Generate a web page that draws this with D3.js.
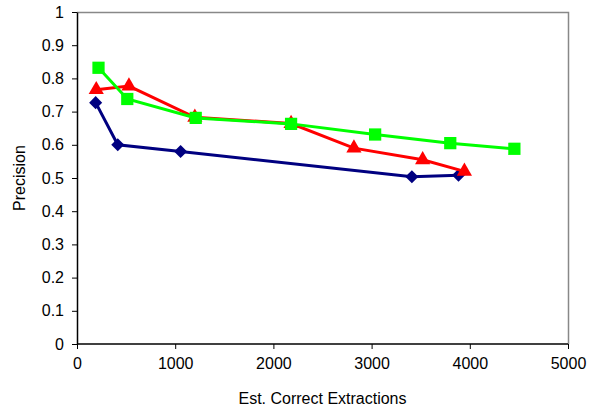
<!DOCTYPE html>
<html>
<head>
<meta charset="utf-8">
<script src="https://cdn.jsdelivr.net/npm/d3@7"></script>
<style>
body { margin: 0; background: #fff; }
text { font-family: "Liberation Sans", Arial, sans-serif; }
</style>
</head>
<body>
<div id="chart"></div>
<script>
var W = 603, H = 413;
var margin = {top: 12, right: 35, bottom: 69, left: 77};

var xTicks = [0, 1000, 2000, 3000, 4000, 5000];
var yTicks = [0, 0.1, 0.2, 0.3, 0.4, 0.5, 0.6, 0.7, 0.8, 0.9, 1];

// navy diamonds
var blueX = [190, 415, 1055, 3410, 3885];
var blueY = [0.727, 0.600, 0.580, 0.504, 0.508];
// red triangles
var redX = [196, 529, 1200, 2180, 2820, 3520, 3945];
var redY = [0.766, 0.777, 0.683, 0.664, 0.590, 0.555, 0.520];
// green squares
var greenX = [219, 512, 1209, 2180, 3036, 3801, 4454];
var greenY = [0.832, 0.738, 0.681, 0.663, 0.631, 0.605, 0.588];

var width = W - margin.left - margin.right,
    height = H - margin.top - margin.bottom;

var x = d3.scaleLinear().domain([0, 5000]).range([0, width]);
var y = d3.scaleLinear().domain([0, 1]).range([height, 0]);

var svg = d3.select("#chart").append("svg")
    .attr("width", W).attr("height", H);
var g = svg.append("g")
    .attr("transform", "translate(" + margin.left + "," + margin.top + ")");

// plot area border (grey, top and right)
g.append("path")
    .attr("d", "M0,0.5H" + (width + 0.5) + "V" + height)
    .attr("fill", "none").attr("stroke", "#888").attr("stroke-width", 1.5);

var xAxis = g.append("g")
    .attr("transform", "translate(0," + height + ")")
    .call(d3.axisBottom(x).tickValues(xTicks).tickSize(5).tickPadding(9).tickFormat(d3.format("d")));
var yAxis = g.append("g")
    .call(d3.axisLeft(y).tickValues(yTicks).tickSize(5).tickPadding(8).tickSizeOuter(0).tickFormat(function(d){ return d3.format("")(+d.toFixed(1)); }));

[xAxis, yAxis].forEach(function(a){
  a.select(".domain").attr("stroke", "#000").attr("stroke-width", 1.5);
  a.selectAll(".tick line").attr("stroke", "#000");
  a.selectAll(".tick text").attr("font-size", 16).attr("fill", "#000")
    .style("font-family", "'Liberation Sans', Arial, sans-serif");
});
xAxis.select(".domain").attr("d", "M0,0H" + width);

svg.append("text")
    .attr("x", margin.left + width / 2).attr("y", 404)
    .attr("text-anchor", "middle").attr("font-size", 16)
    .text("Est. Correct Extractions");
svg.append("text")
    .attr("transform", "translate(25," + (margin.top + height / 2) + ") rotate(-90)")
    .attr("text-anchor", "middle").attr("font-size", 16)
    .text("Precision");

var line = d3.line().x(function(d){ return x(d[0]); }).y(function(d){ return y(d[1]); });

var series = [
  {xs: blueX, ys: blueY, color: "#000080", sym: d3.symbolSquare, size: 85, rot: 45},
  {xs: greenX, ys: greenY, color: "#00ff00", sym: d3.symbolSquare, size: 150, rot: 0},
  {xs: redX, ys: redY, color: "#ff0000", sym: d3.symbolTriangle, size: 100, rot: 0}
];
// draw red line beneath green squares
var order = [series[0], series[2], series[1]];
order.forEach(function(s){
  var pts = d3.zip(s.xs, s.ys);
  g.append("path").datum(pts)
    .attr("d", line).attr("fill", "none")
    .attr("stroke", s.color).attr("stroke-width", 3);
  g.selectAll(null).data(pts).enter().append("path")
    .attr("transform", function(d){ return "translate(" + x(d[0]) + "," + y(d[1]) + ") rotate(" + s.rot + ")"; })
    .attr("d", d3.symbol().type(s.sym).size(s.size))
    .attr("fill", s.color);
});
</script>
</body>
</html>
